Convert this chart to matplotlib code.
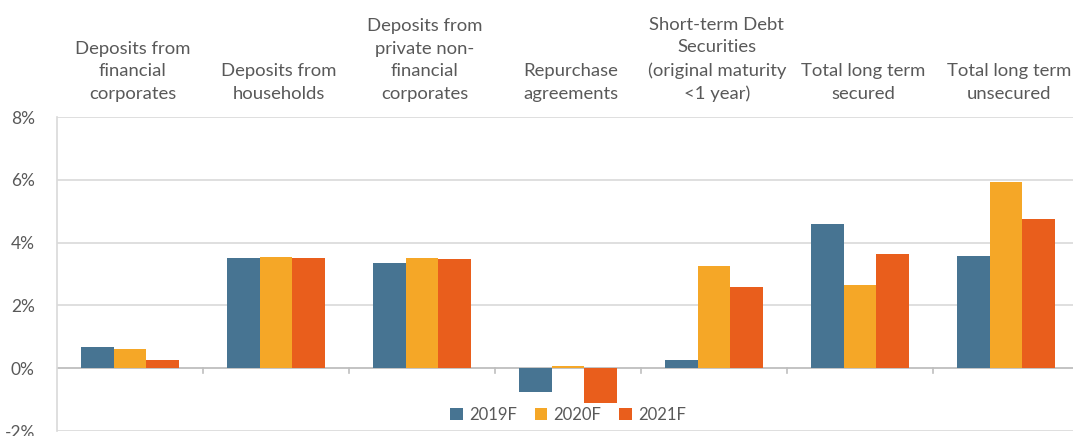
import numpy as np
import matplotlib.pyplot as plt
import matplotlib.transforms as mtransforms

# categorie e valori (%)
categorie = ["Deposits from\nfinancial\ncorporates",
             "Deposits from\nhouseholds",
             "Deposits from\nprivate non-\nfinancial\ncorporates",
             "Repurchase\nagreements",
             "Short-term Debt\nSecurities\n(original maturity\n<1 year)",
             "Total long term\nsecured",
             "Total long term\nunsecured"]
serie = ["2019F", "2020F", "2021F"]
v2019 = [0.67, 3.50, 3.34, -0.75, 0.25, 4.58, 3.57]
v2020 = [0.62, 3.53, 3.52, 0.06, 3.25, 2.65, 5.93]
v2021 = [0.27, 3.50, 3.49, -1.10, 2.60, 3.64, 4.76]
yticks = [-2, 0, 2, 4, 6, 8]

colori = ["#477492", "#F5A727", "#E95E1C"]
grigio = "#595959"
linea = "#D9D9D9"

plt.rcParams['font.family'] = ['Lato', 'DejaVu Sans']

W, H = 1073, 436
fig = plt.figure(figsize=(W / 100, H / 100), dpi=100)
ax = fig.add_axes([57 / W, 5 / H, 1022 / W, 314 / H])

x = np.arange(len(categorie))
w = 0.225
for i, (vals, lab) in enumerate(zip([v2019, v2020, v2021], serie)):
    ax.bar(x + (i - 1) * w, vals, width=w, color=colori[i], label=lab, zorder=3)

ax.set_xlim(-0.5, len(categorie) - 0.5)
ax.set_ylim(-2, 8)
ax.set_yticks(yticks)
ax.set_yticklabels([f"{t}%" for t in yticks], color=grigio, fontsize=12.5)
ax.tick_params(axis='y', length=0, pad=16)
ax.set_xticks([])
ax.grid(axis='y', color=linea, linewidth=1.2, zorder=0)
for s in ['top', 'right', 'bottom']:
    ax.spines[s].set_visible(False)
ax.spines['left'].set_color(linea)
ax.spines['left'].set_linewidth(1.2)

# asse dello zero con tacche tra le categorie
ax.axhline(0, color="#BFBFBF", linewidth=1.2, zorder=2)
for b in np.arange(0.5, len(categorie) - 0.5, 1.0):
    ax.plot([b, b], [0, -0.16], color="#BFBFBF", linewidth=1.2, zorder=2, clip_on=False)

# etichette di categoria sopra il grafico
trans = mtransforms.blended_transform_factory(ax.transData, ax.transAxes)
for xi, c in zip(x, categorie):
    ax.text(xi + 0.02, 1 + 15 / 314, c, transform=trans, ha='center', va='bottom',
            fontsize=13.3, color=grigio, linespacing=1.5)

leg = ax.legend(loc='lower center', bbox_to_anchor=(0.5, 0.0), ncol=3, frameon=False,
                fontsize=12, handlelength=0.75, handleheight=0.75, handletextpad=0.35,
                columnspacing=1.1, borderaxespad=0.1)
for t in leg.get_texts():
    t.set_color(grigio)

fig.savefig("out.png", dpi=100)
